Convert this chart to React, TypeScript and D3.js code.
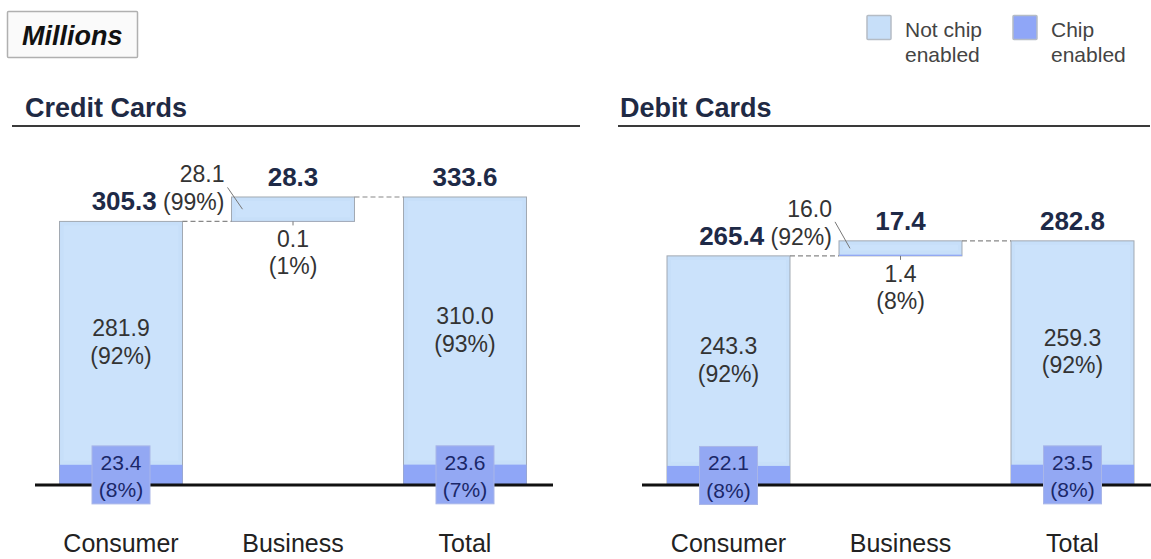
import React from "react";
import * as d3 from "d3";

const categories = ["Consumer", "Business", "Total"];

const creditNotChip = [281.9, 28.1, 310.0];
const creditChip = [23.4, 0.1, 23.6];
const creditTotals = [305.3, 28.3, 333.6];
const creditNotChipPct = ["92%", "99%", "93%"];
const creditChipPct = ["8%", "1%", "7%"];

const debitNotChip = [243.3, 16.0, 259.3];
const debitChip = [22.1, 1.4, 23.5];
const debitTotals = [265.4, 17.4, 282.8];
const debitNotChipPct = ["92%", "92%", "92%"];
const debitChipPct = ["8%", "8%", "8%"];

const legendLabels = [["Not chip", "enabled"], ["Chip", "enabled"]];

const FONT = "'Liberation Sans', Arial, Helvetica, sans-serif";
const NOT_CHIP = "#c7dff9";
const CHIP = "#8fa6f7";
const BAR_STROKE = "#a2a9b2";
const NAVY = "#1e2a47";
const TXT = "#333333";

const y = d3.scaleLinear().domain([0, 300]).range([485, 226]);

type PanelProps = {
  title: string;
  titleX: number;
  underline: [number, number];
  bandRange: [number, number];
  baseLine: [number, number];
  notChip: number[];
  chip: number[];
  totals: number[];
  notChipPct: string[];
  chipPct: string[];
};

function Panel(p: PanelProps) {
  const x = d3
    .scaleBand<string>()
    .domain(categories)
    .range(p.bandRange)
    .paddingInner(0.285)
    .paddingOuter(0.1425);
  const bw = x.bandwidth();
  const bases = [0, p.totals[0], 0];

  const consumerTop = y(p.totals[0]);
  const bizLeft = x(categories[1])!;
  const bizTop = y(bases[1] + p.totals[1]);
  const bizBottom = y(bases[1]);
  const bizCx = bizLeft + bw / 2;
  const labelRight = bizLeft - 7;
  const lblBase2 = consumerTop - 11;
  const lblBase1 = lblBase2 - 28;

  return (
    <g>
      <text x={p.titleX} y={117} fontFamily={FONT} fontSize={27} fontWeight="bold" fill="#1f2a44">
        {p.title}
      </text>
      <line x1={p.underline[0]} x2={p.underline[1]} y1={126} y2={126} stroke="#3a3a3a" strokeWidth={2} />

      {categories.map((c, i) => {
        const x0 = x(c)!;
        const base = bases[i];
        const chipTop = y(base + p.chip[i]);
        const top = y(base + p.totals[i]);
        return (
          <g key={c}>
            <rect x={x0} y={top} width={bw} height={y(base) - top} fill={NOT_CHIP} stroke={BAR_STROKE} strokeWidth={1} />
            <rect x={x0 + 4} y={top + 4} width={bw - 8} height={Math.max(0, chipTop - top - 8)} fill="#cde4fb" opacity={0.6} />
            <rect x={x0} y={chipTop} width={bw} height={y(base) - chipTop} fill={CHIP} />
          </g>
        );
      })}

      {/* dashed connectors */}
      <line x1={x(categories[0])! + bw} x2={bizLeft} y1={consumerTop} y2={consumerTop} stroke="#888" strokeDasharray="5,3" strokeWidth={1.2} />
      <line x1={bizLeft + bw} x2={x(categories[2])!} y1={bizTop} y2={bizTop} stroke="#888" strokeDasharray="5,3" strokeWidth={1.2} />

      {/* baseline */}
      <line x1={p.baseLine[0]} x2={p.baseLine[1]} y1={y(0)} y2={y(0)} stroke="#111" strokeWidth={3} />

      {/* consumer & total labels */}
      {[0, 2].map((i) => {
        const c = categories[i];
        const cx = x(c)! + bw / 2;
        const top = y(p.totals[i]);
        const chipTop = y(p.chip[i]);
        const midNC = (top + chipTop) / 2;
        const midC = (chipTop + y(0)) / 2;
        return (
          <g key={c} fontFamily={FONT}>
            <text x={cx} y={midNC} textAnchor="middle" fontSize={23} fill={TXT}>
              <tspan x={cx} dy="-0.3em">{p.notChip[i].toFixed(1)}</tspan>
              <tspan x={cx} dy="1.2em">({p.notChipPct[i]})</tspan>
            </text>
            <rect x={cx - 29} y={midC - 29} width={58} height={58} fill="#93a8f3" stroke="#a9b6e8" strokeWidth={1} />
            <text x={cx} y={midC} textAnchor="middle" fontSize={21} fill="#1a2768">
              <tspan x={cx} dy="-0.25em">{p.chip[i].toFixed(1)}</tspan>
              <tspan x={cx} dy="1.3em">({p.chipPct[i]})</tspan>
            </text>
            {i === 2 && (
              <text x={cx} y={top - 11} textAnchor="middle" fontSize={26} fontWeight="bold" fill={NAVY}>
                {p.totals[i].toFixed(1)}
              </text>
            )}
          </g>
        );
      })}

      {/* consumer total + business not-chip pct */}
      <g fontFamily={FONT}>
        <text x={labelRight} y={lblBase1} textAnchor="end" fontSize={23} fill={TXT}>
          {p.notChip[1].toFixed(1)}
        </text>
        <text x={labelRight} y={lblBase2} textAnchor="end" fill={TXT}>
          <tspan fontSize={26} fontWeight="bold" fill={NAVY}>{p.totals[0].toFixed(1)}</tspan>
          <tspan fontSize={23}> ({p.notChipPct[1]})</tspan>
        </text>
        <line x1={labelRight + 3} y1={lblBase1 + 5} x2={bizLeft + 11} y2={(bizTop + bizBottom) / 2} stroke="#777" strokeWidth={1} />
        <text x={bizCx} y={bizTop - 11} textAnchor="middle" fontSize={26} fontWeight="bold" fill={NAVY}>
          {p.totals[1].toFixed(1)}
        </text>
        <line x1={bizCx} x2={bizCx} y1={bizBottom} y2={bizBottom + 4} stroke="#777" strokeWidth={1} />
        <text x={bizCx} y={bizBottom + 26} textAnchor="middle" fontSize={23} fill={TXT}>
          {p.chip[1].toFixed(1)}
        </text>
        <text x={bizCx} y={bizBottom + 53} textAnchor="middle" fontSize={23} fill={TXT}>
          ({p.chipPct[1]})
        </text>
      </g>

      {categories.map((c) => (
        <text key={c} x={x(c)! + bw / 2} y={552} textAnchor="middle" fontFamily={FONT} fontSize={25} fill="#222">
          {c}
        </text>
      ))}
    </g>
  );
}

export default function App() {
  const legendX = [867, 1013];
  const legendColors = [NOT_CHIP, CHIP];
  return (
    <svg width={1151} height={559} style={{ position: "absolute", left: 0, top: 0, background: "#fff" }}>
      <rect x={0} y={0} width={1151} height={559} fill="#fff" />
      <rect x={7.5} y={11.5} width={130} height={46} fill="#fafafa" stroke="#b0b0b0" strokeWidth={1.5} rx={1} />
      <text x={22} y={45} fontFamily={FONT} fontSize={27} fontWeight="bold" fontStyle="italic" fill="#111">
        Millions
      </text>

      {legendLabels.map((lines, i) => (
        <g key={i} fontFamily={FONT}>
          <rect x={legendX[i]} y={15.5} width={24} height={24} fill={legendColors[i]} stroke="#b5bcc5" strokeWidth={1.5} rx={1} />
          <text x={legendX[i] + 38} y={37} fontSize={21} fill="#444">{lines[0]}</text>
          <text x={legendX[i] + 38} y={62} fontSize={21} fill="#444">{lines[1]}</text>
        </g>
      ))}

      <Panel
        title="Credit Cards"
        titleX={25}
        underline={[12, 580]}
        bandRange={[35, 551]}
        baseLine={[35, 553]}
        notChip={creditNotChip}
        chip={creditChip}
        totals={creditTotals}
        notChipPct={creditNotChipPct}
        chipPct={creditChipPct}
      />
      <Panel
        title="Debit Cards"
        titleX={620}
        underline={[618, 1150]}
        bandRange={[642.5, 1158.5]}
        baseLine={[642, 1151]}
        notChip={debitNotChip}
        chip={debitChip}
        totals={debitTotals}
        notChipPct={debitNotChipPct}
        chipPct={debitChipPct}
      />
    </svg>
  );
}
